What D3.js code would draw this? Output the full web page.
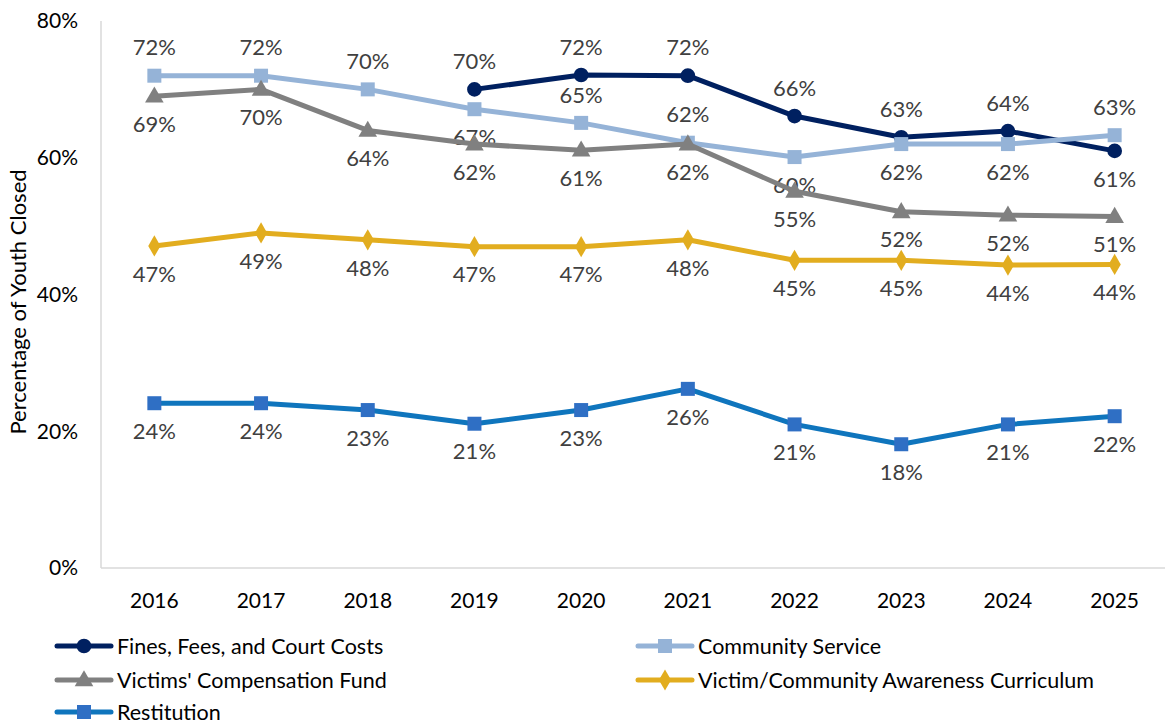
<!DOCTYPE html>
<html>
<head>
<meta charset="utf-8">
<script src="https://cdn.jsdelivr.net/npm/d3@7"></script>
<style>
  body { margin: 0; background: #fff; }
  text { font-family: Lato, "Open Sans", sans-serif; }
</style>
</head>
<body>
<svg id="chart" width="1165" height="725"></svg>
<script>
// Years on the category axis
const years = ["2016", "2017", "2018", "2019", "2020", "2021", "2022", "2023", "2024", "2025"];

// Percent of youth closed, by condition type (null = not tracked that year)
const finesFees   = [null, null, null, 70.0, 72.1, 72.0, 66.1, 63.0, 63.9, 61.0];
const communitySv = [72.0, 72.0, 70.0, 67.1, 65.1, 62.2, 60.1, 62.0, 62.0, 63.3];
const victimsComp = [69.0, 70.0, 64.0, 62.0, 61.1, 62.0, 55.1, 52.1, 51.6, 51.4];
const awareness   = [47.1, 49.0, 48.0, 47.0, 47.0, 48.0, 45.0, 45.0, 44.3, 44.4];
const restitution = [24.1, 24.1, 23.1, 21.1, 23.1, 26.2, 21.0, 18.1, 21.0, 22.2];

// Label side per point: 1 = above the marker, -1 = below
const finesSide = [1, 1, 1, 1, 1, 1, 1, 1, 1, -1];
const csSide    = [1, 1, 1, -1, 1, 1, -1, -1, -1, 1];
const allBelow  = [-1, -1, -1, -1, -1, -1, -1, -1, -1, -1];

const yTicks = [0, 20, 40, 60, 80];

const series = [
  { name: "Fines, Fees, and Court Costs", values: finesFees, color: "#002060", marker: "circle", side: finesSide },
  { name: "Community Service", values: communitySv, color: "#95B3D7", marker: "square", side: csSide },
  { name: "Victims' Compensation Fund", values: victimsComp, color: "#808080", marker: "triangle", side: allBelow },
  { name: "Victim/Community Awareness Curriculum", values: awareness, color: "#E2AD1F", marker: "diamond", side: allBelow },
  { name: "Restitution", values: restitution, color: "#0F75BD", markerColor: "#2F6FC4", marker: "square", side: allBelow }
];

const svg = d3.select("#chart");
const plot = { left: 101, right: 1168, top: 21, bottom: 568 };

const x = d3.scalePoint().domain(years).range([plot.left, plot.right]).padding(0.5);
const y = d3.scaleLinear().domain([0, 80]).range([plot.bottom, plot.top]);

// Axis lines
svg.append("line").attr("x1", plot.left).attr("x2", plot.left)
  .attr("y1", plot.top).attr("y2", plot.bottom).attr("stroke", "#D9D9D9").attr("stroke-width", 1.5);
svg.append("line").attr("x1", plot.left).attr("x2", plot.right)
  .attr("y1", plot.bottom).attr("y2", plot.bottom).attr("stroke", "#D9D9D9").attr("stroke-width", 1.5);

// Y tick labels
svg.append("g").selectAll("text").data(yTicks).join("text")
  .attr("x", 78).attr("y", d => y(d)).attr("dy", "0.35em")
  .attr("text-anchor", "end").attr("font-size", 21).attr("fill", "#000")
  .text(d => d + "%");

// X tick labels
svg.append("g").selectAll("text").data(years).join("text")
  .attr("x", d => x(d)).attr("y", 601).attr("dy", "0.35em")
  .attr("text-anchor", "middle").attr("font-size", 21).attr("fill", "#000")
  .text(d => d);

// Y axis title
svg.append("text")
  .attr("transform", `translate(18,302) rotate(-90)`)
  .attr("text-anchor", "middle").attr("dy", "0.35em").attr("font-size", 22).attr("fill", "#000")
  .text("Percentage of Youth Closed");

const symbolFor = {
  circle: d3.symbol().type(d3.symbolCircle).size(170),
  square: d3.symbol().type(d3.symbolSquare).size(196),
  triangle: d3.symbol().type(d3.symbolTriangle).size(150),
  diamond: d3.symbol().type(d3.symbolDiamond).size(130)
};

const line = d3.line()
  .defined(d => d.v !== null)
  .x(d => x(d.year)).y(d => y(d.v));

series.forEach(s => {
  const pts = years.map((yr, i) => ({ year: yr, v: s.values[i], side: s.side[i] }));
  const g = svg.append("g");
  g.append("path").datum(pts).attr("d", line)
    .attr("fill", "none").attr("stroke", s.color).attr("stroke-width", 5)
    .attr("stroke-linejoin", "round");
  const valid = pts.filter(d => d.v !== null);
  g.selectAll("path.m").data(valid).join("path").attr("class", "m")
    .attr("d", symbolFor[s.marker])
    .attr("transform", d => `translate(${x(d.year)},${y(d.v) + (s.marker === "triangle" ? 1 : 0)})`)
    .attr("fill", s.markerColor || s.color);
  g.selectAll("text").data(valid).join("text")
    .attr("x", d => x(d.year))
    .attr("y", d => y(d.v) - d.side * 28).attr("dy", "0.35em")
    .attr("text-anchor", "middle").attr("font-size", 22).attr("fill", "#404040")
    .text(d => Math.round(d.v) + "%");
});

// Legend, two columns
const legendPos = [
  { x: 57, y: 646 }, { x: 638, y: 646 },
  { x: 57, y: 680 }, { x: 638, y: 680 },
  { x: 57, y: 712 }
];
series.forEach((s, i) => {
  const p = legendPos[i];
  const lg = svg.append("g").attr("transform", `translate(${p.x},${p.y})`);
  lg.append("line").attr("x1", 0).attr("x2", 54).attr("y1", 0).attr("y2", 0)
    .attr("stroke", s.color).attr("stroke-width", 5).attr("stroke-linecap", "round");
  lg.append("path").attr("d", symbolFor[s.marker]())
    .attr("transform", `translate(27,${s.marker === "triangle" ? 1 : 0})`)
    .attr("fill", s.markerColor || s.color);
  lg.append("text").attr("x", 60).attr("y", 0).attr("dy", "0.35em")
    .attr("font-size", 21.5).attr("fill", "#000").text(s.name);
});
</script>
</body>
</html>
